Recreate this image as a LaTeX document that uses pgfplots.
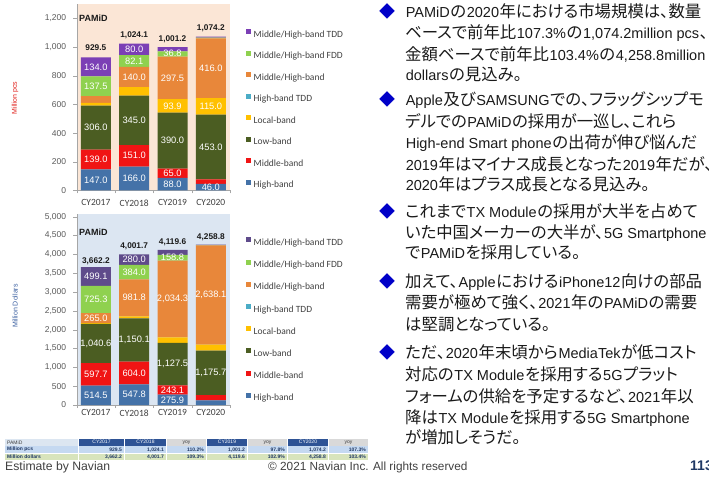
\documentclass[border=0pt]{standalone}
\usepackage{fontspec}
\usepackage{pgfplots}
\usepackage{pgfplotstable}
\pgfplotsset{compat=1.18}
\setmainfont{Liberation Sans}
\newfontfamily\carlito{Carlito}
\newfontfamily\jp[RawFeature=+palt]{Noto Sans CJK JP}
\definecolor{cHB}{HTML}{4472A8}
\definecolor{cMB}{HTML}{F01414}
\definecolor{cLB}{HTML}{4B5D22}
\definecolor{cLoc}{HTML}{FFC000}
\definecolor{cHT}{HTML}{4BACC6}
\definecolor{cMH}{HTML}{E8873A}
\definecolor{cFDD}{HTML}{8FD14F}
\definecolor{cTDDa}{HTML}{7B3FB5}
\definecolor{cTDDb}{HTML}{5F4B8B}
\definecolor{peach}{HTML}{FBE6D6}
\definecolor{paleblue}{HTML}{DCE6F2}
\definecolor{tickgray}{HTML}{595959}
\definecolor{leggray}{HTML}{404040}
\definecolor{axgray}{HTML}{A6A6A6}
\definecolor{txt}{HTML}{1A1A1A}
\definecolor{bulblue}{HTML}{0000C8}
\definecolor{pcsred}{HTML}{E0201B}
\definecolor{usdblue}{HTML}{3A5FA0}
\definecolor{hdark}{HTML}{2E5395}
\definecolor{hgray}{HTML}{D9D9D9}
\definecolor{hlight}{HTML}{DCE6F1}
\definecolor{rblue}{HTML}{C5D9F1}
\definecolor{rgreen}{HTML}{D8E4BC}
\definecolor{navy}{HTML}{1F3864}

\pgfplotstableread{
x HB MB LB Loc HT MH FDD TDD
0 147.0 139.0 306.0 20.0 0 46.0 137.5 134.0
1 166.0 151.0 345.0 60.0 0 140.0 82.1 80.0
2 88.0 65.0 390.0 93.9 0 297.5 36.8 30.0
3 46.0 31.0 453.0 115.0 0 416.0 5.0 8.2
}\pcs
\pgfplotstableread{
x HB MB LB Loc HT MH FDD TDD
0 514.5 597.7 1040.6 20.0 0 265.0 725.3 499.1
1 547.8 604.0 1150.1 54.0 0 981.8 384.0 280.0
2 275.9 243.1 1127.5 150.0 0 2034.3 158.8 130.0
3 125.0 140.0 1175.7 160.0 0 2638.1 8.0 12.0
}\usd
\pgfplotstableread{
x y lab
0 73.5 147.0
0 216.5 139.0
0 439 306.0
0 727 137.5
0 862.5 134.0
1 83 166.0
1 242.5 151.0
1 489.5 345.0
1 792 140.0
1 903 82.1
1 984 80.0
2 44 88.0
2 120.5 65.0
2 348 390.0
2 590 93.9
2 786 297.5
2 955 36.8
3 23 46.0
3 303.5 453.0
3 587.5 115.0
3 853 416.0
}\pcslab
\pgfplotstableread{
x y lab
0 994 929.5
1 1085 1,024.1
2 1057 1,001.2
3 1132 1,074.2
}\pcstot
\pgfplotstableread{
x y lab
0 257.25 514.5
0 813.35 597.7
0 1632.5 1,040.6
0 2305.3 265.0
0 2800.45 725.3
0 3412.65 499.1
1 273.9 547.8
1 849.8 604.0
1 1726.85 1,150.1
1 2846.8 981.8
1 3529.7 384.0
1 3861.7 280.0
2 137.95 275.9
2 397.45 243.1
2 1082.75 1,127.5
2 2813.65 2,034.3
2 3910.2 158.8
3 852.85 1,175.7
3 2919.75 2,638.1
}\usdlab
\pgfplotstableread{
x y lab
0 3805 3,662.2
1 4203 4,001.7
2 4320 4,119.6
3 4443 4,258.8
}\usdtot

\pgfplotsset{
  barbase/.style={
    scale only axis, width=153.3pt,
    ybar stacked, bar width=30pt,
    xmin=-0.5, xmax=3.5, ymin=0,
    axis x line*=bottom, axis y line*=left,
    axis line style={draw=axgray},
    xtick={0,1,2,3}, xticklabels={CY2017,CY2018,CY2019,CY2020},
    major x tick style={draw=none},
    minor xtick={-0.5,0.5,1.5,2.5,3.5},
    minor x tick style={draw=axgray}, minor tick length=3pt,
    tick align=outside, major tick length=3.5pt,
    y tick style={draw=axgray},
    xticklabel style={font=\carlito\fontsize{9.5}{11}\selectfont, text=leggray},
    yticklabel style={font=\fontsize{8.5}{10}\selectfont, text=tickgray, xshift=-3.5pt},
    /pgf/number format/1000 sep={,},
    /pgf/number format/assume math mode=true,
    legend style={draw=none, fill=none, inner sep=0pt, anchor=north west,
      font=\carlito\fontsize{9.5}{11}\selectfont,
      nodes={inner sep=0pt, text height=7pt, text depth=2pt, text=leggray}},
    legend cell align=left, reverse legend,
    legend image code/.code={\fill[##1] (0pt,0.5pt) rectangle (5pt,5.5pt); \path (7.5pt,0pt);},
    clip=false,
  },
  labbase/.style={scale only axis, width=153.3pt, xmin=-0.5, xmax=3.5, ymin=0, hide axis, clip=false},
  inlab/.style={draw=none, mark=none, nodes near coords, point meta=explicit symbolic,
    nodes near coords align={anchor=center},
    every node near coord/.append style={font=\fontsize{9.3}{11}\selectfont, text=white, inner sep=0pt}},
  totlab/.style={draw=none, mark=none, nodes near coords, point meta=explicit symbolic,
    nodes near coords align={anchor=center},
    every node near coord/.append style={font=\bfseries\fontsize{8.3}{10}\selectfont, text=txt, inner sep=0pt}},
}

\newcommand\la[1]{\hspace{0.6pt}{\rmfamily\fontsize{14.5}{18}\selectfont #1}\hspace{0.6pt}}
\newcommand\jl[2]{\node[anchor=base west, inner sep=0pt, text height=13pt, text depth=3pt, font=\jp\fontsize{16.4}{18}\selectfont, text=txt] at (405,#1) {#2};}
\newcommand\bl[1]{\node[anchor=base west, inner sep=0pt, text height=13pt, text depth=3pt, font=\jp\fontsize{16}{18}\selectfont, text=bulblue] at (379,#1) {◆};}

\begin{document}
\begin{tikzpicture}[x=1pt,y=1pt]
\useasboundingbox (0,0) rectangle (709,477);

% ---------- top chart ----------
\begin{axis}[barbase, at={(76.7pt,286.5pt)}, anchor=south west, height=186.3pt,
  ymax=1300, ytick={0,200,...,1200},
  xticklabel style={yshift=-2.3pt},
  axis background/.style={fill=peach},
  legend style={at={(axis description cs:1.1044,0.866)}, row sep=11.5pt}]
\addplot[fill=cHB, draw=none] table[x=x,y=HB]{\pcs}; \addlegendentry{High-band}
\addplot[fill=cMB, draw=none] table[x=x,y=MB]{\pcs}; \addlegendentry{Middle-band}
\addplot[fill=cLB, draw=none] table[x=x,y=LB]{\pcs}; \addlegendentry{Low-band}
\addplot[fill=cLoc, draw=none] table[x=x,y=Loc]{\pcs}; \addlegendentry{Local-band}
\addplot[fill=cHT, draw=none] table[x=x,y=HT]{\pcs}; \addlegendentry{High-band TDD}
\addplot[fill=cMH, draw=none] table[x=x,y=MH]{\pcs}; \addlegendentry{Middle/High-band}
\addplot[fill=cFDD, draw=none] table[x=x,y=FDD]{\pcs}; \addlegendentry{Middle/High-band FDD}
\addplot[fill=cTDDa, draw=none] table[x=x,y=TDD]{\pcs}; \addlegendentry{Middle/High-band TDD}
\end{axis}
\begin{axis}[labbase, at={(76.7pt,286.5pt)}, anchor=south west, height=186.3pt, ymax=1300]
\addplot[inlab] table[x=x,y=y,meta=lab]{\pcslab};
\addplot[totlab] table[x=x,y=y,meta=lab]{\pcstot};
\end{axis}

% ---------- bottom chart ----------
\begin{axis}[barbase, at={(76.7pt,72pt)}, anchor=south west, height=191.3pt,
  ymax=5080, ytick={0,500,...,5000},
  xticklabel style={yshift=2.2pt},
  axis background/.style={fill=paleblue},
  legend style={at={(axis description cs:1.1044,0.877)}, row sep=12.2pt}]
\addplot[fill=cHB, draw=none] table[x=x,y=HB]{\usd}; \addlegendentry{High-band}
\addplot[fill=cMB, draw=none] table[x=x,y=MB]{\usd}; \addlegendentry{Middle-band}
\addplot[fill=cLB, draw=none] table[x=x,y=LB]{\usd}; \addlegendentry{Low-band}
\addplot[fill=cLoc, draw=none] table[x=x,y=Loc]{\usd}; \addlegendentry{Local-band}
\addplot[fill=cHT, draw=none] table[x=x,y=HT]{\usd}; \addlegendentry{High-band TDD}
\addplot[fill=cMH, draw=none] table[x=x,y=MH]{\usd}; \addlegendentry{Middle/High-band}
\addplot[fill=cFDD, draw=none] table[x=x,y=FDD]{\usd}; \addlegendentry{Middle/High-band FDD}
\addplot[fill=cTDDb, draw=none] table[x=x,y=TDD]{\usd}; \addlegendentry{Middle/High-band TDD}
\end{axis}
\begin{axis}[labbase, at={(76.7pt,72pt)}, anchor=south west, height=191.3pt, ymax=5080]
\addplot[inlab] table[x=x,y=y,meta=lab]{\usdlab};
\addplot[totlab] table[x=x,y=y,meta=lab]{\usdtot};
\end{axis}

% chart titles and axis titles
\node[anchor=west, inner sep=0pt, font=\bfseries\fontsize{9}{10}\selectfont, text=txt] at (79,459) {PAMiD};
\node[anchor=west, inner sep=0pt, font=\bfseries\fontsize{9}{10}\selectfont, text=txt] at (79,245) {PAMiD};
\node[rotate=90, inner sep=0pt, font=\fontsize{7}{8}\selectfont, text=pcsred] at (15,379) {Million pcs};
\node[rotate=90, inner sep=0pt, font=\fontsize{7}{8}\selectfont, text=usdblue] at (15,171) {Million Dollars};

% ---------- Japanese text ----------
\bl{459.2}
\jl{459.2}{\la{PAMiD}の\la{2020}年における市場規模は、数量}
\jl{438.2}{ベースで前年比\la{107.3\%}の\la{1,074.2million pcs}、}
\jl{416.2}{金額ベースで前年比\la{103.4\%}の\la{4,258.8million}}
\jl{396.2}{\la{dollars}の見込み。}
\bl{371.2}
\jl{371.2}{\la{Apple}及び\la{SAMSUNG}での、フラッグシップモ}
\jl{349.2}{デルでの\la{PAMiD}の採用が一巡し、これら}
\jl{328.2}{\la{High-end Smart phone}の出荷が伸び悩んだ}
\jl{306.2}{\la{2019}年はマイナス成長となった\la{2019}年だが、}
\jl{286.2}{\la{2020}年はプラス成長となる見込み。}
\bl{259.2}
\jl{259.2}{これまで\la{TX Module}の採用が大半を占めて}
\jl{238.2}{いた中国メーカーの大半が、\la{5G Smartphone}}
\jl{218.2}{で\la{PAMiD}を採用している。}
\bl{189.2}
\jl{189.2}{加えて、\la{Apple}における\la{iPhone12}向けの部品}
\jl{168.2}{需要が極めて強く、\la{2021}年の\la{PAMiD}の需要}
\jl{146.2}{は堅調となっている。}
\bl{118.2}
\jl{118.2}{ただ、\la{2020}年末頃から\la{MediaTek}が低コスト}
\jl{96.2}{対応の\la{TX Module}を採用する\la{5G}プラット}
\jl{74.2}{フォームの供給を予定するなど、\la{2021}年以}
\jl{53.2}{降は\la{TX Module}を採用する\la{5G Smartphone}}
\jl{33.2}{が増加しそうだ。}

% ---------- table ----------
\fill[hlight] (5,31.5) rectangle (78,38);
\foreach \l/\r/\c in {79/124/hdark,125/166/hdark,167/206/hgray,207/247/hdark,248/287/hgray,288/328/hdark,329/368/hgray}
  {\fill[\c] (\l,31.5) rectangle (\r,38);
   \fill[rblue] (\l,24) rectangle (\r,30.7);
   \fill[rgreen] (\l,17.3) rectangle (\r,23.3);}
\fill[rblue] (5,24) rectangle (78,30.7);
\fill[rgreen] (5,17.3) rectangle (78,23.3);
\node[anchor=west, inner sep=0pt, font=\fontsize{5}{6}\selectfont, text=leggray] at (7,34.75) {PAMiD};
\node[anchor=west, inner sep=0pt, font=\bfseries\fontsize{5}{6}\selectfont, text=navy] at (7,27.35) {Million pcs};
\node[anchor=west, inner sep=0pt, font=\bfseries\fontsize{5}{6}\selectfont, text=navy] at (7,20.3) {Million dollars};
\foreach \l/\r/\t/\c in {79/124/CY2017/white,125/166/CY2018/white,167/206/yoy/leggray,207/247/CY2019/white,248/287/yoy/leggray,288/328/CY2020/white,329/368/yoy/leggray}
  {\node[inner sep=0pt, font=\fontsize{5}{6}\selectfont, text=\c] at ({(\l+\r)/2},34.75) {\t};}
\foreach \r/\a/\b in {124/929.5/{3,662.2},166/{1,024.1}/{4,001.7},206/110.2\%/109.3\%,247/{1,001.2}/{4,119.6},287/97.8\%/102.9\%,328/{1,074.2}/{4,258.8},368/107.3\%/103.4\%}
  {\node[anchor=east, inner sep=0pt, font=\bfseries\fontsize{5}{6}\selectfont, text=navy] at (\r-2,27.35) {\a};
   \node[anchor=east, inner sep=0pt, font=\bfseries\fontsize{5}{6}\selectfont, text=navy] at (\r-2,20.3) {\b};}

% ---------- footer ----------
\node[anchor=base west, inner sep=0pt, font=\fontsize{12.2}{14}\selectfont, text=leggray] at (5,6.5) {Estimate by Navian};
\node[anchor=base west, inner sep=0pt, font=\fontsize{11.8}{14}\selectfont, text=leggray] at (268,6.5) {© 2021 Navian Inc. All rights reserved};
\node[anchor=base west, inner sep=0pt, font=\bfseries\fontsize{14}{16}\selectfont, text=navy] at (690,6.5) {113};
\end{tikzpicture}
\end{document}
